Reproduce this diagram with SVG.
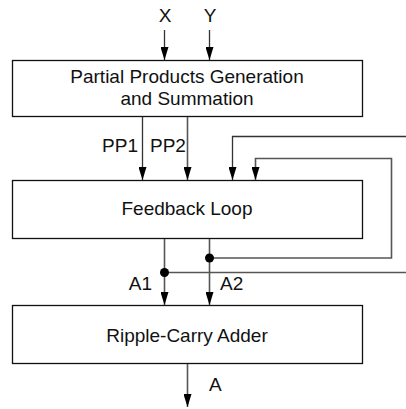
<svg xmlns="http://www.w3.org/2000/svg" width="406" height="409" viewBox="0 0 406 409">
<style>
text{font-family:"Liberation Sans",Arial,sans-serif;font-size:19px;fill:#111}
.box{fill:#fff;stroke:#111;stroke-width:1.3}
.w{fill:none;stroke:#333;stroke-width:1.3}
.g{fill:none;stroke:#555;stroke-width:1.6}
</style>
<defs>
<marker id="a" viewBox="0 0 13 8" refX="13" refY="4" markerUnits="userSpaceOnUse" markerWidth="13" markerHeight="8" orient="auto">
<path d="M0,0 L13,4 L0,8 Z" fill="#000"/>
</marker>
</defs>
<g id="pp">
<rect class="box" x="12.5" y="60.5" width="350" height="56"/>
<text x="187" y="83" text-anchor="middle">Partial Products Generation</text>
<text x="187" y="105" text-anchor="middle">and Summation</text>
</g>
<g id="fb">
<rect class="box" x="12.5" y="180.5" width="350" height="58"/>
<text x="187" y="215" text-anchor="middle">Feedback Loop</text>
</g>
<g id="rca">
<rect class="box" x="12.5" y="305.5" width="350" height="58"/>
<text x="187" y="342" text-anchor="middle">Ripple-Carry Adder</text>
</g>
<g id="connectors">
<line class="w" x1="164.5" y1="30" x2="164.5" y2="60" marker-end="url(#a)"/>
<line class="w" x1="209.5" y1="30" x2="209.5" y2="60" marker-end="url(#a)"/>
<line class="w" x1="142.5" y1="117" x2="142.5" y2="180" marker-end="url(#a)"/>
<line class="g" x1="187.5" y1="117" x2="187.5" y2="180" marker-end="url(#a)"/>
<polyline class="w" points="406,136.5 232.5,136.5 232.5,180" marker-end="url(#a)"/>
<polyline class="g" points="209.5,258 391.5,258 391.5,158.5 255.5,158.5 255.5,180" marker-end="url(#a)"/>
<line class="g" x1="164.5" y1="239" x2="164.5" y2="305" marker-end="url(#a)"/>
<line class="g" x1="209.5" y1="239" x2="209.5" y2="305" marker-end="url(#a)"/>
<line class="g" x1="164.5" y1="272.5" x2="406" y2="272.5"/>
<line class="g" x1="187.5" y1="364" x2="187.5" y2="407" marker-end="url(#a)"/>
<circle cx="164.5" cy="272.5" r="4.5" fill="#000"/>
<circle cx="209.5" cy="258" r="4.5" fill="#000"/>
<text x="165" y="22" text-anchor="middle">X</text>
<text x="210" y="22" text-anchor="middle">Y</text>
<text x="138" y="152" text-anchor="end">PP1</text>
<text x="150" y="152">PP2</text>
<text x="152" y="290" text-anchor="end">A1</text>
<text x="220" y="290">A2</text>
<text x="209" y="391">A</text>
</g>
</svg>
